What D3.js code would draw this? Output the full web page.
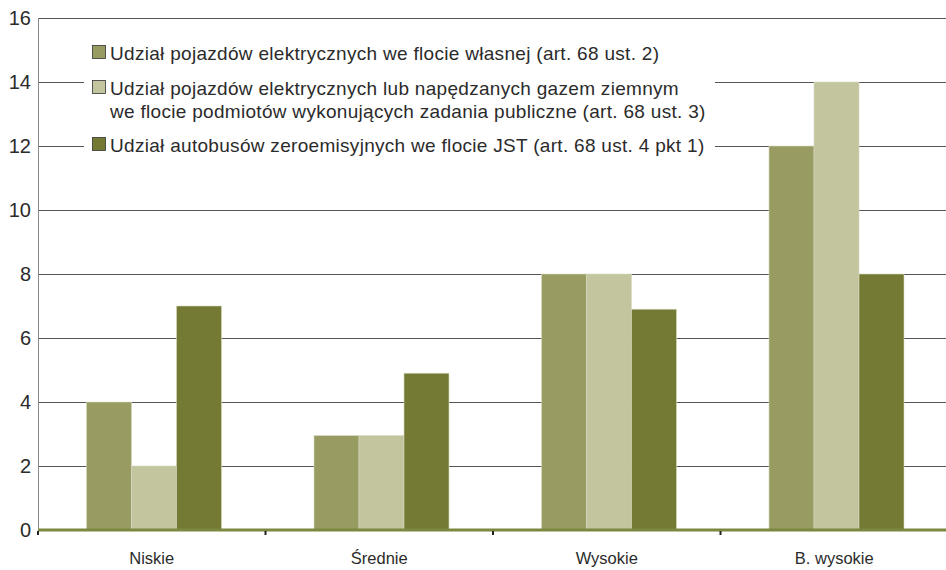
<!DOCTYPE html>
<html>
<head>
<meta charset="utf-8">
<script src="https://cdn.jsdelivr.net/npm/d3@7"></script>
<style>
  body { margin: 0; background: #fff; }
  svg text { font-family: "Liberation Sans", Arial, sans-serif; fill: #2b2b2b; }
</style>
</head>
<body>
<div id="container"></div>
<script>
// grouped bars, share of vehicles by municipality category

const categories = ["Niskie", "Średnie", "Wysokie", "B. wysokie"]
const seriesNames = [
    ["Udział pojazdów elektrycznych we flocie własnej (art. 68 ust. 2)"],
    ["Udział pojazdów elektrycznych lub napędzanych gazem ziemnym", "we flocie podmiotów wykonujących zadania publiczne (art. 68 ust. 3)"],
    ["Udział autobusów zeroemisyjnych we flocie JST (art. 68 ust. 4 pkt 1)"]
]
const ownFleet = [4, 2.95, 8, 12]
const publicTasks = [2, 2.95, 8, 14]
const zeroEmissionBuses = [7, 4.9, 6.9, 8]
const yTicks = [0, 2, 4, 6, 8, 10, 12, 14, 16]
const colors = ["#989c62", "#c3c59f", "#747a34"]

const width = 946,
    height = 570
const padding = { top: 18, right: -2, bottom: 40, left: 38 }

const svg = d3.select("#container").append("svg")
    .attr("width", width)
    .attr("height", height)

const x = d3.scaleBand()
    .domain(categories)
    .range([padding.left, width - padding.right])
    .paddingInner(0)
    .paddingOuter(0)

const x1 = d3.scaleBand()
    .domain([0, 1, 2])
    .range([48.5, x.bandwidth() - 44])

const y = d3.scaleLinear()
    .domain([0, 16])
    .range([height - padding.bottom, padding.top])

// gridlines
svg.append("g")
    .selectAll("line")
    .data(yTicks.slice(1))
    .enter()
    .append("line")
    .attr("x1", padding.left)
    .attr("x2", width)
    .attr("y1", d => y(d) + 0.5)
    .attr("y2", d => y(d) + 0.5)
    .attr("stroke", "#555")
    .attr("stroke-width", 1)

// y axis line
svg.append("line")
    .attr("x1", padding.left + 0.5).attr("x2", padding.left + 0.5)
    .attr("y1", y(16)).attr("y2", y(0))
    .attr("stroke", "#8a8a8a")

svg.append("g")
    .selectAll("text")
    .data(yTicks)
    .enter()
    .append("text")
    .attr("x", 31)
    .attr("y", d => y(d))
    .attr("dy", "0.36em")
    .attr("text-anchor", "end")
    .style("font-size", "20px")
    .text(d => d)

// bars
const rows = categories.map((c, i) => ({ cat: c, vals: [ownFleet[i], publicTasks[i], zeroEmissionBuses[i]] }))

const groups = svg.append("g").attr("id", "bars")
    .selectAll("g")
    .data(rows)
    .enter()
    .append("g")
    .attr("transform", d => `translate(${x(d.cat)},0)`)

groups.selectAll("rect")
    .data(d => d.vals)
    .enter()
    .append("rect")
    .attr("x", (d, i) => x1(i))
    .attr("width", x1.bandwidth())
    .attr("y", d => y(d))
    .attr("height", d => y(0) - y(d))
    .attr("fill", (d, i) => colors[i])
    .attr("stroke", "#d8dabf")
    .attr("stroke-width", 0.6)

// baseline
svg.append("line")
    .attr("x1", padding.left).attr("x2", width)
    .attr("y1", y(0)).attr("y2", y(0))
    .attr("stroke", "#7d8740")
    .attr("stroke-width", 3)

// category ticks
svg.append("g")
    .selectAll("rect")
    .data(categories)
    .enter()
    .append("rect")
    .attr("x", d => x(d) - 1)
    .attr("y", y(0) + 1)
    .attr("width", 2)
    .attr("height", 4)
    .attr("fill", "#222")

svg.append("g")
    .selectAll("text")
    .data(categories)
    .enter()
    .append("text")
    .attr("x", d => x(d) + x.bandwidth() / 2)
    .attr("y", 564)
    .attr("text-anchor", "middle")
    .style("font-size", "16.5px")
    .text(d => d)

// legend
const legend = svg.append("g").attr("id", "legend")
legend.append("rect")
    .attr("x", 84).attr("y", 30)
    .attr("width", 631).attr("height", 130)
    .attr("fill", "#fff")

const legendY = [53, 88, 145]
seriesNames.forEach((lines, i) => {
    legend.append("rect")
        .attr("x", 92.5).attr("y", legendY[i] - 7.5)
        .attr("width", 13).attr("height", 13)
        .attr("fill", colors[i])
        .attr("stroke", "#333")
        .attr("stroke-width", 0.8)
    lines.forEach((t, j) => {
        legend.append("text")
            .attr("x", 110)
            .attr("y", legendY[i] + j * 23)
            .attr("dy", "0.35em")
            .style("font-size", "19px")
            .style("letter-spacing", "0.3px")
            .text(t)
    })
})
</script>
</body>
</html>
